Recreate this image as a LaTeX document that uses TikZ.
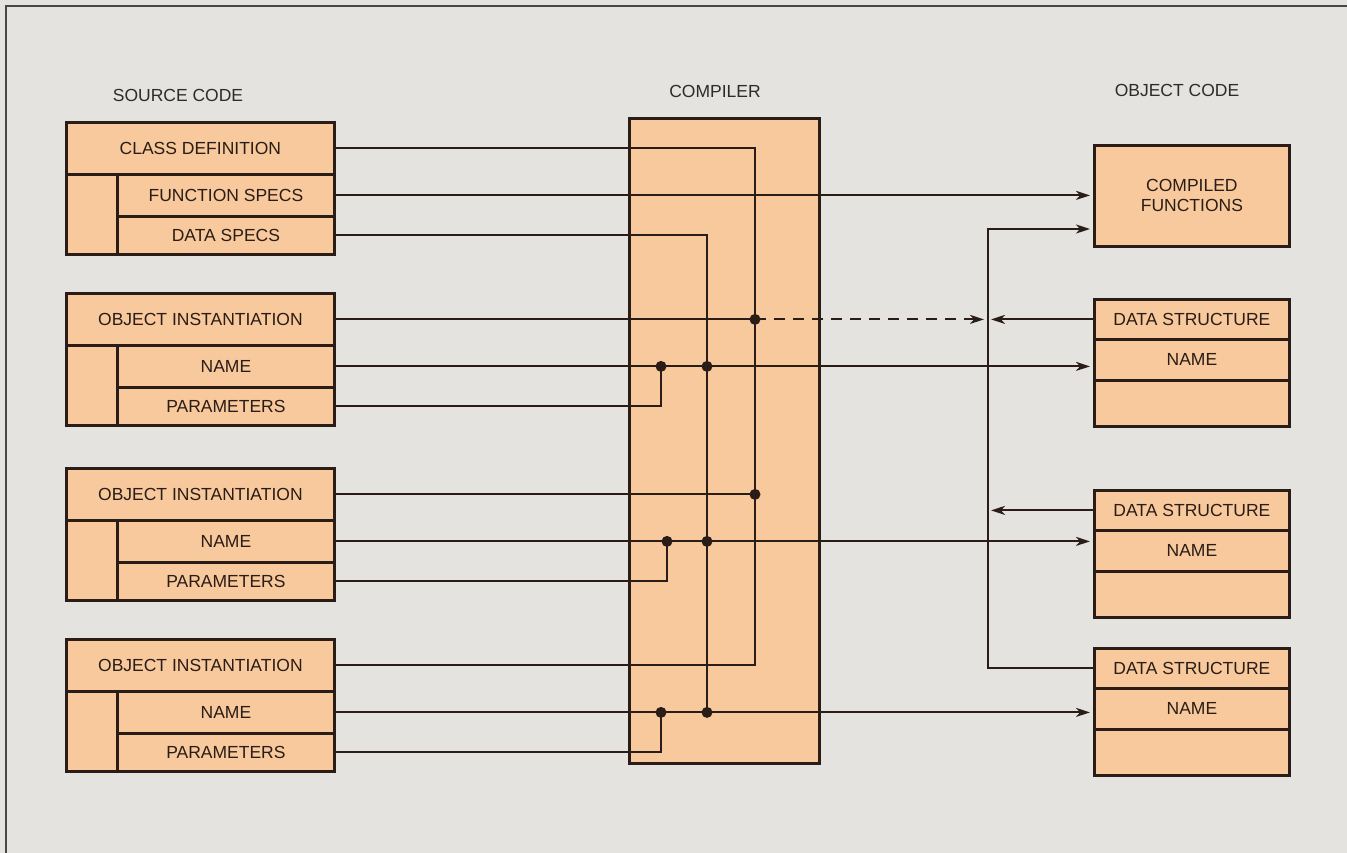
\documentclass[tikz,border=0pt]{standalone}
\usepackage{fontspec}
\setmainfont{Liberation Sans}
\usetikzlibrary{arrows.meta}
\definecolor{bg}{HTML}{E5E3DF}
\definecolor{peach}{HTML}{F8C99C}
\definecolor{ink}{HTML}{2A1C16}
\definecolor{framecol}{HTML}{4A4644}
\definecolor{labelcol}{HTML}{2E2C2A}
\newcommand{\mysrcbox}[5]{%
  \node[row=268pt, minimum height=52pt] (#1a) at (65,#2) {#3};
  \node[row=217pt, minimum height=42pt] (#1b) at (116,#2+52) {#4};
  \node[row=217pt, minimum height=38pt] (#1c) at (116,#2+94) {#5};
  \node[row=51pt, minimum height=80pt] (#1l) at (65,#2+52) {};
}
\newcommand{\mydsbox}[2]{%
  \node[row=195pt, minimum height=40pt] (#1a) at (1093,#2) {DATA STRUCTURE};
  \node[row=195pt, minimum height=41pt] (#1b) at (1093,#2+40) {NAME};
  \node[row=195pt, minimum height=46pt] (#1c) at (1093,#2+81) {};
}
\begin{document}
\begin{tikzpicture}[x=1pt,y=-1pt,
  row/.style={draw=ink, line width=2.8pt, fill=peach, anchor=north west,
    inner sep=0pt, minimum width=#1, font=\fontsize{17.5}{20}\selectfont, text=ink},
  lbl/.style={font=\fontsize{17.5}{20}\selectfont, text=labelcol, inner sep=0pt},
  wire/.style={draw=ink, line width=2pt},
  arr/.style={-{Stealth[length=14pt,width=9pt,inset=4pt]}},
  dashwire/.style={dash pattern=on 11pt off 8pt},
  dot/.style={fill=ink}]
\useasboundingbox (0,0) rectangle (1347,853);
\fill[bg] (0,0) rectangle (1347,853);
\draw[line width=2pt, framecol] (6,853) -- (6,6) -- (1347,6);

% labels
\node[lbl] (lsrc) at (178,95) {SOURCE CODE};
\node[lbl] (lcomp) at (715,91) {COMPILER};
\node[lbl] (lobj) at (1177,90) {OBJECT CODE};

% compiler
\node[draw=ink, line width=2.8pt, fill=peach, anchor=north west, inner sep=0pt,
  minimum width=190pt, minimum height=645pt] (comp) at (628,117) {};

% source code boxes
\mysrcbox{s0}{121}{CLASS DEFINITION}{FUNCTION SPECS}{DATA SPECS}
\mysrcbox{s1}{292}{OBJECT INSTANTIATION}{NAME}{PARAMETERS}
\mysrcbox{s2}{467}{OBJECT INSTANTIATION}{NAME}{PARAMETERS}
\mysrcbox{s3}{638}{OBJECT INSTANTIATION}{NAME}{PARAMETERS}

% object code boxes
\node[row=195pt, minimum height=101pt, align=center] (cf) at (1093,144) {COMPILED\\FUNCTIONS};
\mydsbox{d1}{298}
\mydsbox{d2}{489}
\mydsbox{d3}{647}

% helper coordinates
\coordinate (v1) at (755,0);
\coordinate (v2) at (707,0);
\coordinate (p1) at (661,0);
\coordinate (p2) at (667,0);
\coordinate (p3) at (661,0);
\coordinate (bus) at (988,229);
\coordinate (busr) at (991,0);
\coordinate (dashend) at (984,0);

% class definition bus
\draw[wire] (s0a.east) -- (v1 |- s0a.east) -- (v1 |- s3a.east) -- (s3a.east);
\draw[wire] (s1a.east) -- (v1 |- s1a.east);
\draw[wire] (s2a.east) -- (v1 |- s2a.east);
\draw[wire,dashwire,arr] (v1 |- s1a.east) -- (dashend |- s1a.east);

% function specs
\draw[wire,arr] (s0b.east) -- ([xshift=-3pt]s0b.east -| cf.west);

% data specs bus
\draw[wire] (s0c.east) -- (v2 |- s0c.east) -- (v2 |- s3b.east);

% names and parameters
\draw[wire,arr] (s1b.east) -- ([xshift=-3pt]s1b.east -| d1b.west);
\draw[wire,arr] (s2b.east) -- ([xshift=-3pt]s2b.east -| d2b.west);
\draw[wire,arr] (s3b.east) -- ([xshift=-3pt]s3b.east -| d3b.west);
\draw[wire] (s1c.east) -- (p1 |- s1c.east) -- (p1 |- s1b.east);
\draw[wire] (s2c.east) -- (p2 |- s2c.east) -- (p2 |- s2b.east);
\draw[wire] (s3c.east) -- (p3 |- s3c.east) -- (p3 |- s3b.east);

% object code bus
\draw[wire,arr] (d3a.west) -- (bus |- d3a.west) -- (bus) -- ([xshift=-3pt]bus -| cf.west);
\draw[wire,arr] (d1a.west) -- (busr |- d1a.west);
\draw[wire,arr] (d2a.west) -- (busr |- d2a.west);

% junction dots
\fill[dot] (v1 |- s1a.east) circle (5.5pt);
\fill[dot] (v1 |- s2a.east) circle (5.5pt);
\fill[dot] (v2 |- s1b.east) circle (5.5pt);
\fill[dot] (v2 |- s2b.east) circle (5.5pt);
\fill[dot] (v2 |- s3b.east) circle (5.5pt);
\fill[dot] (p1 |- s1b.east) circle (5.5pt);
\fill[dot] (p2 |- s2b.east) circle (5.5pt);
\fill[dot] (p3 |- s3b.east) circle (5.5pt);
\end{tikzpicture}
\end{document}
